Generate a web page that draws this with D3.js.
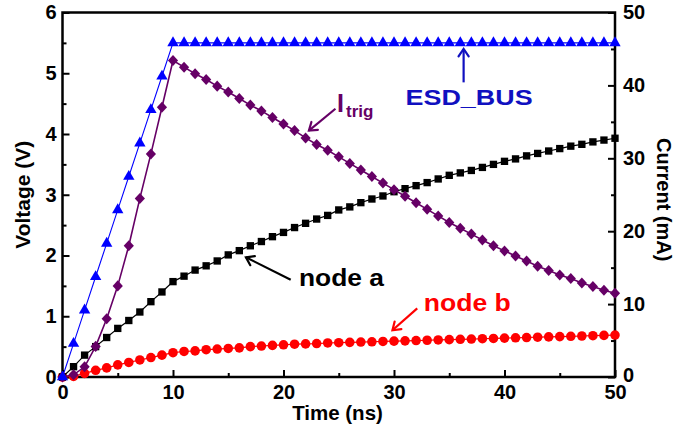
<!DOCTYPE html>
<html>
<head>
<meta charset="utf-8">
<script src="https://cdn.jsdelivr.net/npm/d3@7"></script>
<style>
  html, body { margin: 0; padding: 0; background: #fff; }
  svg text { font-family: "Liberation Sans", Arial, sans-serif; font-weight: bold; }
</style>
</head>
<body>
<svg id="chart" width="690" height="430"></svg>
<script>
// ---- data ----
const time = d3.range(0, 51); // 0..50 ns, one sample per ns
const esdBus = [0, 0.55, 1.1, 1.65, 2.2, 2.75, 3.3, 3.85, 4.4, 4.95, 5.5,
  5.5, 5.5, 5.5, 5.5, 5.5, 5.5, 5.5, 5.5, 5.5, 5.5,
  5.5, 5.5, 5.5, 5.5, 5.5, 5.5, 5.5, 5.5, 5.5, 5.5,
  5.5, 5.5, 5.5, 5.5, 5.5, 5.5, 5.5, 5.5, 5.5, 5.5,
  5.5, 5.5, 5.5, 5.5, 5.5, 5.5, 5.5, 5.5, 5.5, 5.5];
const iTrig = [0, 0.3, 1.4, 4.2, 8.0, 12.5, 18.0, 24.5, 30.6, 37.0, 43.4,
  42.5, 41.6, 40.8, 39.9, 39.1, 38.2, 37.3, 36.5, 35.6, 34.7,
  33.8, 32.8, 31.9, 31.1, 30.2, 29.3, 28.4, 27.5, 26.6, 25.7,
  24.8, 23.9, 23.0, 22.1, 21.2, 20.4, 19.6, 18.8, 18.0, 17.3,
  16.6, 15.9, 15.2, 14.6, 14.0, 13.5, 12.9, 12.4, 11.9, 11.5];
const nodeA = [0, 0.17, 0.36, 0.5, 0.65, 0.8, 0.93, 1.07, 1.24, 1.40, 1.57,
  1.66, 1.76, 1.83, 1.91, 2.01, 2.08, 2.16, 2.23, 2.31, 2.38,
  2.46, 2.53, 2.60, 2.66, 2.75, 2.80, 2.87, 2.93, 2.98, 3.05,
  3.10, 3.15, 3.20, 3.26, 3.32, 3.36, 3.40, 3.45, 3.50, 3.55,
  3.59, 3.64, 3.68, 3.72, 3.76, 3.80, 3.83, 3.87, 3.90, 3.93];
const nodeB = [0, 0.01, 0.06, 0.11, 0.15, 0.2, 0.24, 0.28, 0.32, 0.36, 0.40,
  0.42, 0.43, 0.45, 0.46, 0.47, 0.48, 0.50, 0.51, 0.52, 0.53,
  0.54, 0.545, 0.55, 0.56, 0.565, 0.57, 0.575, 0.58, 0.585, 0.59,
  0.595, 0.60, 0.605, 0.61, 0.615, 0.62, 0.625, 0.63, 0.635, 0.64,
  0.645, 0.65, 0.655, 0.66, 0.665, 0.67, 0.675, 0.68, 0.685, 0.69];

const xTicks = [0, 10, 20, 30, 40, 50];
const xMinor = [5, 15, 25, 35, 45];
const yTicks = [0, 1, 2, 3, 4, 5, 6];
const yMinor = [0.5, 1.5, 2.5, 3.5, 4.5, 5.5];
const y2Ticks = [0, 10, 20, 30, 40, 50];
const y2Minor = [5, 15, 25, 35, 45];

// ---- layout ----
const W = 690, H = 430;
const m = { left: 62.5, right: 75, top: 12.5, bottom: 53 };
const svg = d3.select("#chart");
const x = d3.scaleLinear().domain([0, 50]).range([m.left, W - m.right]);
const y = d3.scaleLinear().domain([0, 6]).range([H - m.bottom, m.top]);
const y2 = d3.scaleLinear().domain([0, 50]).range([H - m.bottom, m.top]);

const fs = 20;

// axes
const gx = svg.append("g").attr("transform", `translate(0,${H - m.bottom})`)
  .call(d3.axisBottom(x).tickValues(xTicks).tickSize(-7).tickPadding(8).tickFormat(d3.format("d")));
const gxm = svg.append("g").attr("transform", `translate(0,${H - m.bottom})`)
  .call(d3.axisBottom(x).tickValues(xMinor).tickSize(-4).tickFormat(""));
const gy = svg.append("g").attr("transform", `translate(${m.left},0)`)
  .call(d3.axisLeft(y).tickValues(yTicks).tickSize(-7).tickPadding(6).tickFormat(d3.format("d")));
const gym = svg.append("g").attr("transform", `translate(${m.left},0)`)
  .call(d3.axisLeft(y).tickValues(yMinor).tickSize(-4).tickFormat(""));
const gy2 = svg.append("g").attr("transform", `translate(${W - m.right},0)`)
  .call(d3.axisRight(y2).tickValues(y2Ticks).tickSize(-7).tickPadding(8).tickFormat(d3.format("d")));
const gy2m = svg.append("g").attr("transform", `translate(${W - m.right},0)`)
  .call(d3.axisRight(y2).tickValues(y2Minor).tickSize(-4).tickFormat(""));

[gx, gxm, gy, gym, gy2, gy2m].forEach(g => {
  g.select(".domain").remove();
  g.selectAll(".tick line").attr("stroke", "#000").attr("stroke-width", 2);
  g.selectAll(".tick text").attr("fill", "#000").style("font-size", fs + "px")
    .style("font-family", "'Liberation Sans', Arial, sans-serif").style("font-weight", "bold");
});
// lift the right-axis "0" a touch so it clears the bottom "50"
gy2.selectAll(".tick text").filter(d => d === 0).attr("dy", "0.2em");

// frame
svg.append("rect")
  .attr("x", m.left).attr("y", m.top)
  .attr("width", W - m.left - m.right).attr("height", H - m.top - m.bottom)
  .attr("fill", "none").attr("stroke", "#000").attr("stroke-width", 2.5);

// axis titles
svg.append("text").attr("x", 337.5).attr("y", 420)
  .attr("text-anchor", "middle").style("font-size", "20.5px").text("Time (ns)");
svg.append("text").attr("transform", `translate(30,${(y(0) + y(6)) / 2}) rotate(-90)`)
  .attr("text-anchor", "middle").style("font-size", "21px").text("Voltage (V)");
svg.append("text").attr("transform", `translate(657,${(y(0) + y(6)) / 2 + 5}) rotate(90)`)
  .attr("text-anchor", "middle").style("font-size", "20px").text("Current (mA)");

// ---- series ----
const rotSquare = {
  draw(ctx, size) {
    const r = Math.sqrt(size / 2);
    ctx.moveTo(0, -r * 1.08); ctx.lineTo(r, 0); ctx.lineTo(0, r * 1.08); ctx.lineTo(-r, 0); ctx.closePath();
  }
};
const plot = svg.append("g");
function series(vals, ys, color, lw, shape, size) {
  const pts = time.map((t, i) => [t, vals[i]]);
  plot.append("path").datum(pts)
    .attr("fill", "none").attr("stroke", color).attr("stroke-width", lw)
    .attr("d", d3.line().x(d => x(d[0])).y(d => ys(d[1])));
  plot.append("g").selectAll("path").data(pts).join("path")
    .attr("transform", d => `translate(${x(d[0])},${ys(d[1])})`)
    .attr("d", d3.symbol().type(shape).size(size))
    .attr("fill", color);
}
series(nodeB, y, "#ff0000", 1.2, d3.symbolCircle, 72);
series(nodeA, y, "#000000", 1.2, d3.symbolSquare, 54);
series(iTrig, y2, "#660066", 1.6, rotSquare, 52);
series(esdBus, y, "#0000ff", 1.1, d3.symbolTriangle, 56);

// ---- annotations ----
function arrow(t0, v0, t1, v1, ys, color) {
  const x0 = x(t0), y0 = ys(v0), x1 = x(t1), y1 = ys(v1);
  const a = Math.atan2(y1 - y0, x1 - x0), L = 9, h = 0.6;
  svg.append("line").attr("x1", x0).attr("y1", y0).attr("x2", x1).attr("y2", y1)
    .attr("stroke", color).attr("stroke-width", 2.2);
  svg.append("path")
    .attr("d", `M${x1 - L * Math.cos(a - h)},${y1 - L * Math.sin(a - h)} L${x1},${y1} L${x1 - L * Math.cos(a + h)},${y1 - L * Math.sin(a + h)}`)
    .attr("fill", "none").attr("stroke", color).attr("stroke-width", 2.2)
    .attr("stroke-linecap", "round").attr("stroke-linejoin", "miter");
}
function label(t, v, ys, color, txt, size, len) {
  svg.append("text").attr("x", x(t)).attr("y", ys(v))
    .attr("fill", color).style("font-size", size + "px")
    .attr("textLength", len).attr("lengthAdjust", "spacingAndGlyphs")
    .text(txt);
}
// ESD_BUS
arrow(36.3, 4.85, 36.3, 5.4, y, "#1010c0");
label(31.05, 4.47, y, "#1010c0", "ESD_BUS", 22, 127);
// I_trig
arrow(24.7, 36.8, 22.3, 33.8, y2, "#660066");
const it = svg.append("text").attr("x", x(24.85)).attr("y", y2(36.4))
  .attr("fill", "#660066").style("font-size", "25px");
it.append("tspan").text("I");
it.append("tspan").attr("dx", 2).attr("dy", 5).style("font-size", "17px").text("trig");
// node a
arrow(20.65, 1.60, 16.6, 1.97, y, "#000000");
label(21.4, 1.5, y, "#000000", "node a", 24, 85);
// node b
arrow(32.1, 1.13, 29.86, 0.77, y, "#ff0000");
label(32.7, 1.085, y, "#ff0000", "node b", 24, 87);
</script>
</body>
</html>
